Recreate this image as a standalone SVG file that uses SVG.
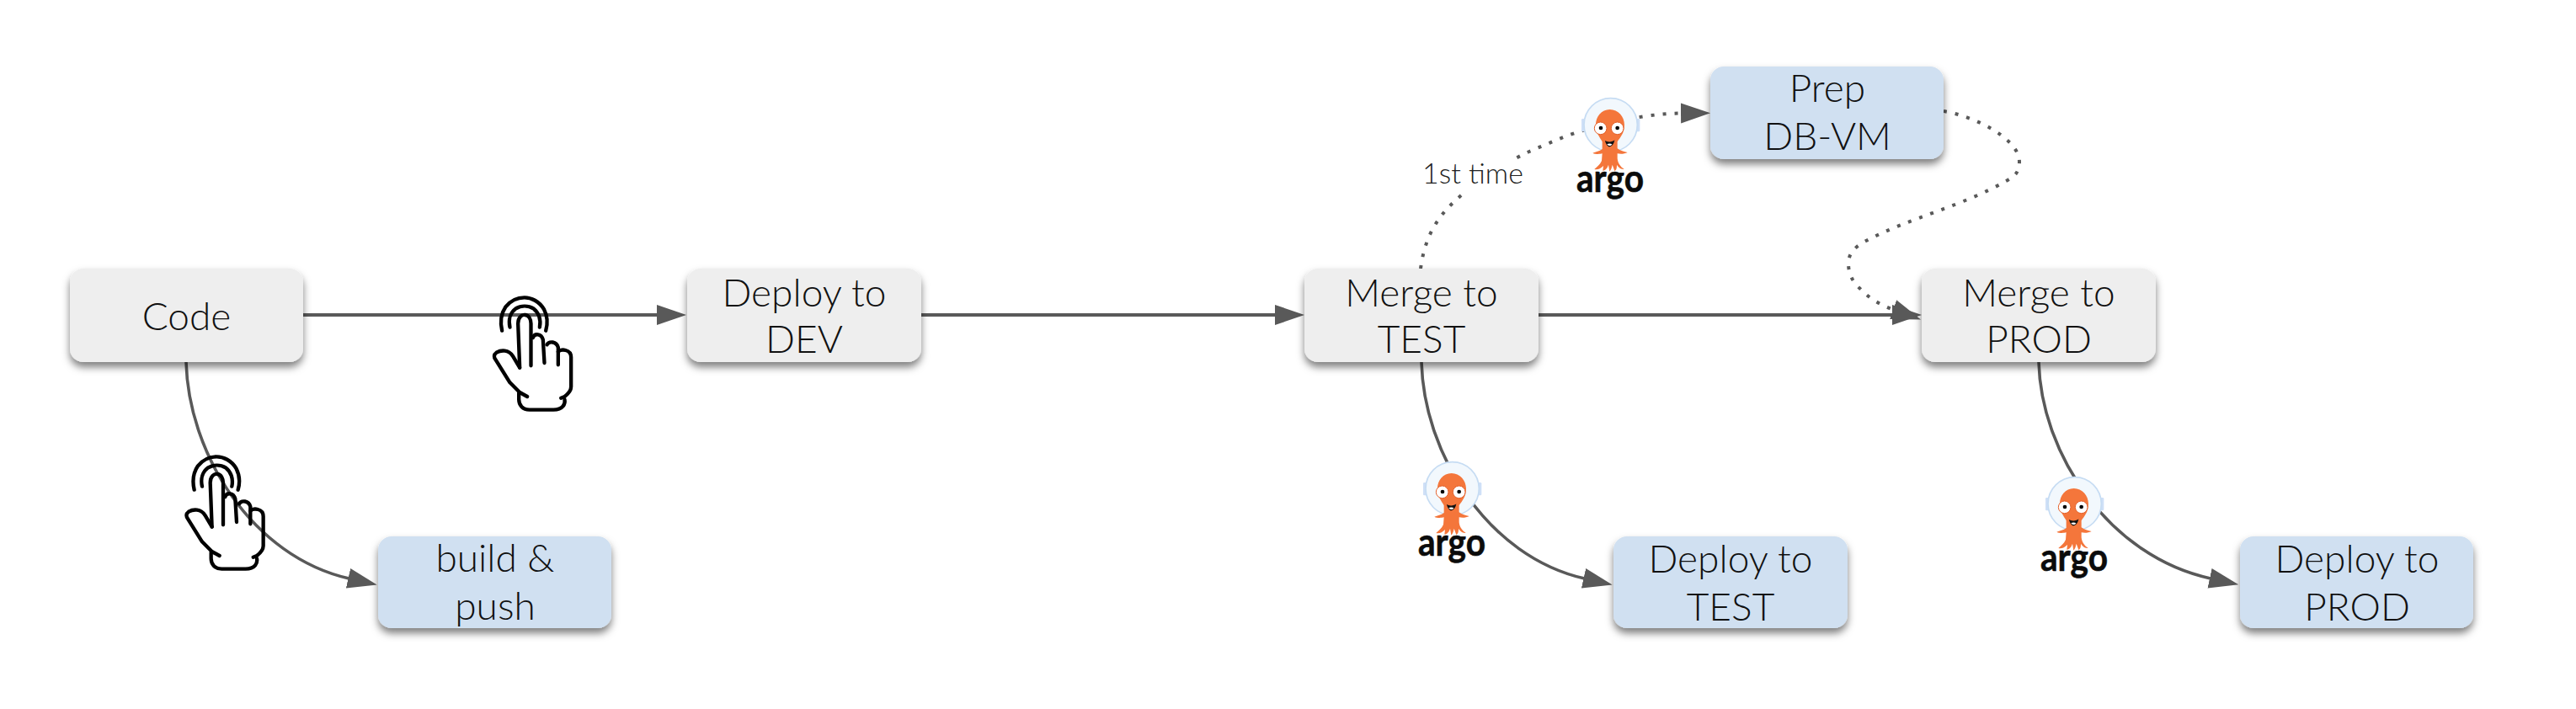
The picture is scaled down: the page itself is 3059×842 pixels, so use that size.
<svg xmlns="http://www.w3.org/2000/svg" xmlns:xlink="http://www.w3.org/1999/xlink" width="3059" height="842" viewBox="0 0 3059 842">
<style>
.box{stroke:none;filter:url(#sh)}
.grey{fill:#eeeeee}
.blue{fill:#d0e0f1}
text{font-family:"Lato","Liberation Sans",sans-serif;font-weight:300;fill:#111;text-anchor:middle}
.t{font-size:46px}
.lbl{font-size:34px;fill:#222}
.argo{font-family:"Lato","Liberation Sans",sans-serif;font-weight:700;font-size:46px;fill:#0b0b0b;stroke:#0b0b0b;stroke-width:.6}
.c{fill:none;stroke:#595959;stroke-width:3.6;marker-end:url(#ah)}
.s{stroke-width:4}
.d{stroke-width:4;stroke-dasharray:4 10}
.h{fill:none;stroke:#000;stroke-width:13;stroke-linecap:round;stroke-linejoin:round}
</style>
<defs>
<filter id="sh" x="-15%" y="-25%" width="130%" height="160%"><feDropShadow dx="0" dy="6" stdDeviation="5" flood-color="#000" flood-opacity=".5"/></filter>
<marker id="ah" markerUnits="userSpaceOnUse" markerWidth="36" markerHeight="26" refX="1" refY="13" orient="auto"><path d="M0,1 L35,13 L0,25 Z" fill="#595959"/></marker>
<g id="hand" class="h" transform="scale(.3333)">
<path d="M62,140 C55,110 58,80 75,55 C95,30 122,22 142,22 C165,22 195,35 212,65 C225,90 225,115 218,140"/>
<path d="M90,128 C84,100 92,75 110,62 C130,50 155,50 175,62 C192,75 202,100 196,128"/>
<path d="M125,272 L119,115 C119,92 133,82 145,84 C158,86 165,100 165,115 L165,265"/>
<path d="M172,165 C178,148 202,150 208,172 L213,255"/>
<path d="M222,190 C230,176 256,178 262,200 L262,262"/>
<path d="M262,215 C272,205 308,205 308,235 L308,340 C308,355 298,365 285,375 L272,380"/>
<path d="M285,385 C288,400 280,422 245,422 L160,422 C135,422 122,405 122,385 L122,362"/>
<path d="M125,272 L100,230 C85,208 60,208 42,218 C32,225 32,235 40,245 L90,325 L125,360 L152,375"/>
</g>
<g id="squid" transform="scale(.3333)">
<rect x="54" y="108" width="14" height="46" rx="4" fill="#cfe0f7"/>
<rect x="248" y="108" width="14" height="46" rx="4" fill="#cfe0f7"/>
<circle cx="158" cy="130" r="95" fill="#f2f8fd" stroke="#c6dcf3" stroke-width="5"/>
<path d="M155,75 C125,75 105,100 105,130 C105,160 120,175 128,190 L128,216 C118,224 105,226 94,230 C105,236 120,234 128,232 L126,258 C120,272 108,280 100,288 C112,290 122,286 132,276 L130,293 C140,292 146,284 150,272 L154,296 C160,290 162,282 164,272 L172,294 C180,290 180,280 180,272 C188,284 196,288 206,288 C194,280 184,268 182,250 L182,232 C192,234 208,234 218,228 C206,226 192,222 182,214 L182,190 C192,175 207,160 207,130 C207,100 185,75 155,75 Z" fill="#f4763b"/>
<circle cx="122" cy="142" r="22" fill="#fff" stroke="#e25f2a" stroke-width="3"/>
<circle cx="182" cy="142" r="22" fill="#fff" stroke="#e25f2a" stroke-width="3"/>
<circle cx="123" cy="141" r="7" fill="#000"/>
<circle cx="182" cy="141" r="7" fill="#000"/>
<path d="M138,186 C146,192 164,192 172,184 C170,200 160,208 154,208 C148,208 140,198 138,186 Z" fill="#111"/>
<path d="M145,199 C150,196 158,196 163,199 C160,206 150,206 145,199 Z" fill="#fff"/>
</g>
</defs>
<g id="connectors">
<path class="c s" d="M360,374 H781"/>
<path class="c s" d="M1094,374 H1515"/>
<path class="c s" d="M1827,374 H2248"/>
<path class="c" d="M221,430 C224,540 300,661 414.5,687"/>
<path class="c" d="M1688,430 C1691,540 1767,661 1881.5,687"/>
<path class="c" d="M2421,430 C2424,540 2505,661 2625,687"/>
<path class="c d" d="M1687,319 C1692,280 1708,255 1734,233 C1760,210 1790,192 1816,180 C1835,172 1850,165 1870,158 C1900,148 1950,135 1997,134.500"/>
<path class="c d" d="M2308,132 C2345,138 2398,165 2398,192 C2398,205 2392,210 2382,215 C2360,228 2330,240 2303,250 C2270,262 2240,273 2214,287 C2200,295 2195,303 2195,313 C2195,325 2200,335 2209,343 C2220,355 2235,363 2249,368"/>
<rect x="1689" y="190" width="120" height="38" fill="#fff"/>
<text class="lbl" x="1749" y="218">1st time</text>
</g>
<g id="code"><rect class="box grey" x="83" y="319" width="277" height="111" rx="16"/><text class="t" x="221.500" y="392">Code</text></g>
<g id="deploy-dev"><rect class="box grey" x="816" y="319" width="278" height="111" rx="16"/><text class="t" x="955" y="364">Deploy to</text><text class="t" x="955" y="419">DEV</text></g>
<g id="merge-test"><rect class="box grey" x="1549" y="319" width="278" height="111" rx="16"/><text class="t" x="1688" y="364">Merge to</text><text class="t" x="1688" y="419">TEST</text></g>
<g id="merge-prod"><rect class="box grey" x="2282" y="319" width="278" height="111" rx="16"/><text class="t" x="2421" y="364">Merge to</text><text class="t" x="2421" y="419">PROD</text></g>
<g id="prep-db-vm"><rect class="box blue" x="2031" y="79" width="277" height="110" rx="16"/><text class="t" x="2170" y="121">Prep</text><text class="t" x="2170" y="178">DB-VM</text></g>
<g id="build-push"><rect class="box blue" x="449" y="637" width="277" height="109" rx="16"/><text class="t" x="588" y="679">build &amp;</text><text class="t" x="588" y="736">push</text></g>
<g id="deploy-test"><rect class="box blue" x="1916" y="637" width="278" height="109" rx="16"/><text class="t" x="2055" y="680">Deploy to</text><text class="t" x="2055" y="737">TEST</text></g>
<g id="deploy-prod"><rect class="box blue" x="2660" y="637" width="277" height="109" rx="16"/><text class="t" x="2799" y="680">Deploy to</text><text class="t" x="2799" y="737">PROD</text></g>
<g id="hand-1" transform="translate(575.500,346)"><use href="#hand"/></g>
<g id="hand-2" transform="translate(210,535)"><use href="#hand"/></g>
<g id="argo-1" transform="translate(1860,105)"><use href="#squid"/><text class="argo" x="52" y="123" textLength="80" lengthAdjust="spacingAndGlyphs">argo</text></g>
<g id="argo-2" transform="translate(1672,537)"><use href="#squid"/><text class="argo" x="52" y="123" textLength="80" lengthAdjust="spacingAndGlyphs">argo</text></g>
<g id="argo-3" transform="translate(2411,555)"><use href="#squid"/><text class="argo" x="52" y="123" textLength="80" lengthAdjust="spacingAndGlyphs">argo</text></g>
</svg>
